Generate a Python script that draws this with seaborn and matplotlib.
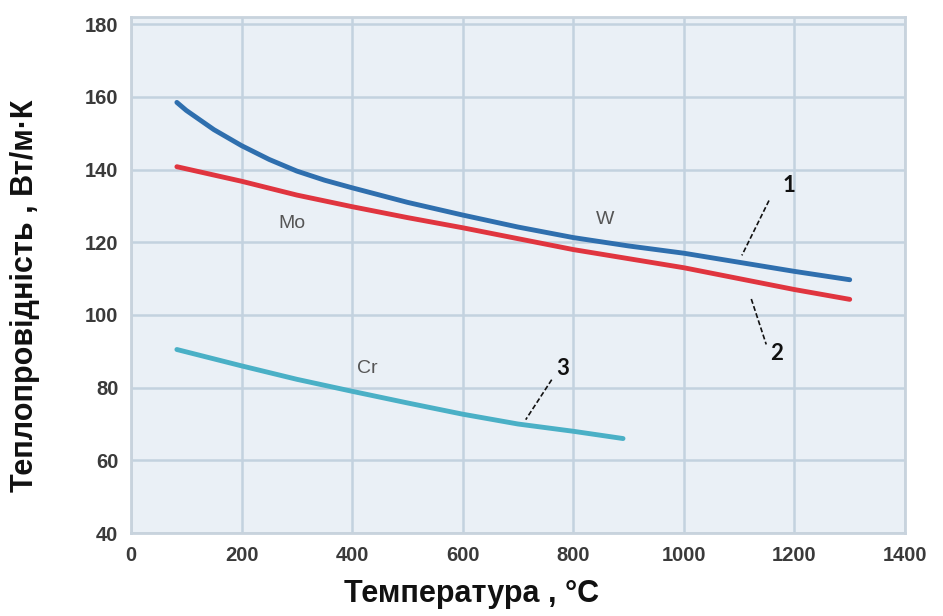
import pandas as pd
import seaborn as sns
import matplotlib.pyplot as plt

# =========================
# Data
# =========================
w_temp = [83, 100, 150, 200, 250, 300, 350, 400, 500, 600, 700, 800, 900, 1000, 1100, 1200, 1300]
w_k = [158.5, 156.3, 151.0, 146.6, 142.8, 139.6, 137.1, 135.0, 131.0, 127.5, 124.2, 121.3, 119.0, 117.0, 114.5, 112.0, 109.7]

mo_temp = [83, 200, 300, 400, 500, 600, 700, 800, 900, 1000, 1100, 1200, 1300]
mo_k = [140.8, 136.8, 133.0, 129.8, 126.8, 124.0, 121.0, 118.0, 115.5, 113.0, 110.0, 107.0, 104.3]

cr_temp = [83, 200, 300, 400, 500, 600, 700, 800, 890]
cr_k = [90.5, 86.0, 82.3, 79.0, 75.8, 72.7, 70.0, 68.0, 66.0]

x_ticks = [0, 200, 400, 600, 800, 1000, 1200, 1400]
y_ticks = [40, 60, 80, 100, 120, 140, 160, 180]

df = pd.concat([
    pd.DataFrame({"temp": w_temp, "k": w_k, "metal": "W"}),
    pd.DataFrame({"temp": mo_temp, "k": mo_k, "metal": "Mo"}),
    pd.DataFrame({"temp": cr_temp, "k": cr_k, "metal": "Cr"}),
])

sns.set_theme(style="whitegrid")
plt.rcParams["font.family"] = ["Liberation Sans", "DejaVu Sans"]

fig = plt.figure(figsize=(9.43, 6.16), dpi=100)
ax = fig.add_axes([0.1389, 0.1347, 0.8208, 0.8377])
ax.set_facecolor("#eaf0f6")

sns.lineplot(
    data=df, x="temp", y="k", hue="metal",
    palette={"W": "#2f6fae", "Mo": "#e0353f", "Cr": "#4ab0c6"},
    linewidth=3.5, legend=False, ax=ax, sort=False,
)

ax.set_xlim(0, 1400)
ax.set_ylim(40, 182)
ax.set_xticks(x_ticks)
ax.set_yticks(y_ticks)
ax.grid(True, color="#c3d2df", linewidth=1.8)
for s in ax.spines.values():
    s.set_color("#c8d3dd")
    s.set_linewidth(2)
ax.tick_params(axis="both", length=0, labelsize=14.5, labelcolor="#3a3a3a", pad=9)
for lab in ax.get_xticklabels() + ax.get_yticklabels():
    lab.set_fontweight("bold")

ax.set_xlabel("Температура , °C", fontsize=22, fontweight="bold", color="#111111")
ax.set_ylabel("Теплопровідність , Вт/м·К", fontsize=22, fontweight="bold", color="#111111")
ax.xaxis.set_label_coords(0.44, -0.09)
ax.yaxis.set_label_coords(-0.118, 0.46)

# metal names
for txt, x, y in [("Mo", 292, 125.2), ("W", 857, 126.3), ("Cr", 427, 85.3)]:
    ax.text(x, y, txt, fontsize=14, color="#555555", ha="center", va="center")

# curve numbers with dashed leaders
leaders = [
    ("1", (1190, 135.6), (1154, 131.5), (1105, 116.4)),
    ("2", (1167, 89.5), (1122, 104.4), (1149, 91.9)),
    ("3", (781, 85.3), (761, 82.2), (714, 71.2)),
]
for num, pos, p0, p1 in leaders:
    ax.text(pos[0], pos[1], num, fontsize=16, fontweight="bold", color="#111111",
            ha="center", va="center", family=["Lato", "DejaVu Sans"])
    ax.plot([p0[0], p1[0]], [p0[1], p1[1]], color="#111111", linewidth=1.2,
            linestyle=(0, (3, 1.5)))

fig.savefig("out.png", dpi=100)
